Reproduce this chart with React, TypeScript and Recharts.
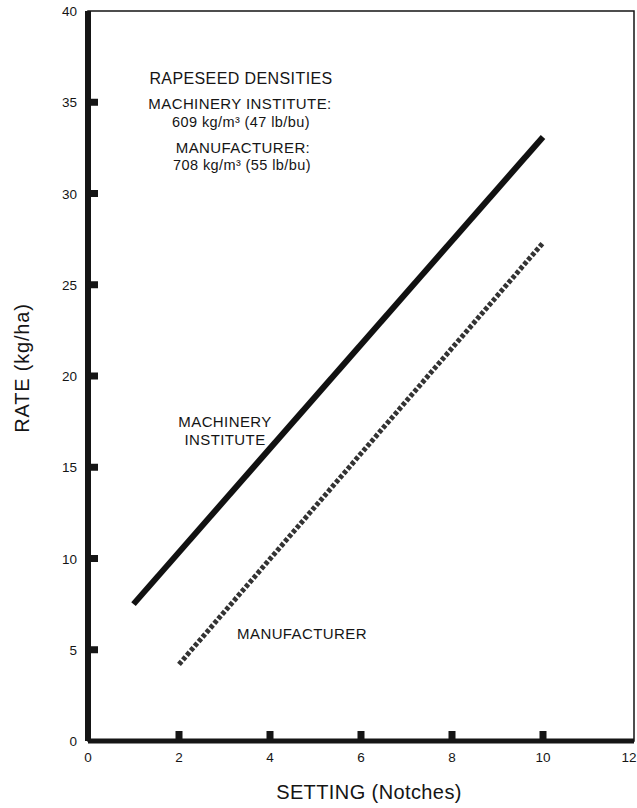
import { Line, LineChart, ReferenceArea, XAxis, YAxis } from "recharts";

const xTicks = [0, 2, 4, 6, 8, 10, 12];
const yTicks = [0, 5, 10, 15, 20, 25, 30, 35, 40];

// endpoints (setting in notches, rate in kg/ha)
const machineryInstitute = [
  { x: 1, y: 7.5 },
  { x: 10, y: 33.1 },
];
const manufacturer = [
  { x: 2, y: 4.2 },
  { x: 10, y: 27.3 },
];

const FONT = "'Liberation Sans', Arial, Helvetica, sans-serif";
const INK = "#151515";

function XTick({ x, y, payload }: any) {
  // 0 and 12 sit on the frame corners, no notch drawn there
  const notch = payload.value > 0 && payload.value < 12;
  return (
    <g>
      {notch && <rect x={x - 3.5} y={y - 10} width={7} height={10} fill={INK} />}
      <text x={x} y={y + 21} textAnchor="middle" fontSize={13.5} fill={INK} fontFamily={FONT}>
        {payload.value}
      </text>
    </g>
  );
}

function YTick({ x, y, payload }: any) {
  const notch = payload.value > 0 && payload.value < 40;
  return (
    <g>
      {notch && <rect x={x} y={y - 3.5} width={10} height={7} fill={INK} />}
      <text x={x - 11} y={y + 5} textAnchor="end" fontSize={13.5} fill={INK} fontFamily={FONT}>
        {payload.value}
      </text>
    </g>
  );
}

function Note({ cx, cy, size = 15, children }: { cx: number; cy: number; size?: number; children: any }) {
  return (
    <div
      style={{
        position: "absolute",
        left: cx,
        top: cy,
        transform: "translate(-50%, -50%)",
        fontSize: size,
        letterSpacing: 0.4,
        whiteSpace: "nowrap",
        color: INK,
        textAlign: "center",
        lineHeight: 1,
      }}
    >
      {children}
    </div>
  );
}

export default function App() {
  return (
    <div style={{ position: "absolute", left: 0, top: 0, width: 637, height: 808, background: "#fff", fontFamily: FONT }}>
      <LineChart width={637} height={808} margin={{ top: 11, right: 3, left: 0, bottom: 0 }}>
        <ReferenceArea x1={0} x2={12} y1={0} y2={40} fill="none" stroke={INK} strokeWidth={1.5} ifOverflow="visible" />
        <XAxis
          dataKey="x"
          type="number"
          domain={[0, 12]}
          ticks={xTicks}
          height={67}
          tickSize={0}
          tickMargin={0}
          tickLine={false}
          tick={<XTick />}
          axisLine={{ stroke: INK, strokeWidth: 5 }}
          allowDataOverflow
        />
        <YAxis
          type="number"
          domain={[0, 40]}
          ticks={yTicks}
          width={88}
          tickSize={0}
          tickMargin={0}
          tickLine={false}
          tick={<YTick />}
          axisLine={{ stroke: INK, strokeWidth: 6 }}
          allowDataOverflow
        />
        <Line
          data={machineryInstitute}
          dataKey="y"
          stroke="#111"
          strokeWidth={6}
          dot={false}
          isAnimationActive={false}
        />
        <Line
          data={manufacturer}
          dataKey="y"
          stroke="#333"
          strokeWidth={5}
          strokeDasharray="4 2"
          dot={false}
          isAnimationActive={false}
        />
      </LineChart>

      <Note cx={241} cy={79} size={16}>RAPESEED DENSITIES</Note>
      <Note cx={240} cy={103}>MACHINERY INSTITUTE:</Note>
      <Note cx={241} cy={122} size={14.5}>609 kg/m³ (47 lb/bu)</Note>
      <Note cx={243} cy={147}>MANUFACTURER:</Note>
      <Note cx={242} cy={165} size={14.5}>708 kg/m³ (55 lb/bu)</Note>

      <Note cx={225} cy={421}>MACHINERY</Note>
      <Note cx={225} cy={439}>INSTITUTE</Note>
      <Note cx={302} cy={633}>MANUFACTURER</Note>

      <Note cx={369} cy={792} size={20}>SETTING (Notches)</Note>
      <div
        style={{
          position: "absolute",
          left: 22,
          top: 368,
          transform: "translate(-50%, -50%) rotate(-90deg)",
          fontSize: 20,
          letterSpacing: 0.8,
          whiteSpace: "nowrap",
          color: INK,
          lineHeight: 1,
        }}
      >
        RATE (kg/ha)
      </div>
    </div>
  );
}
